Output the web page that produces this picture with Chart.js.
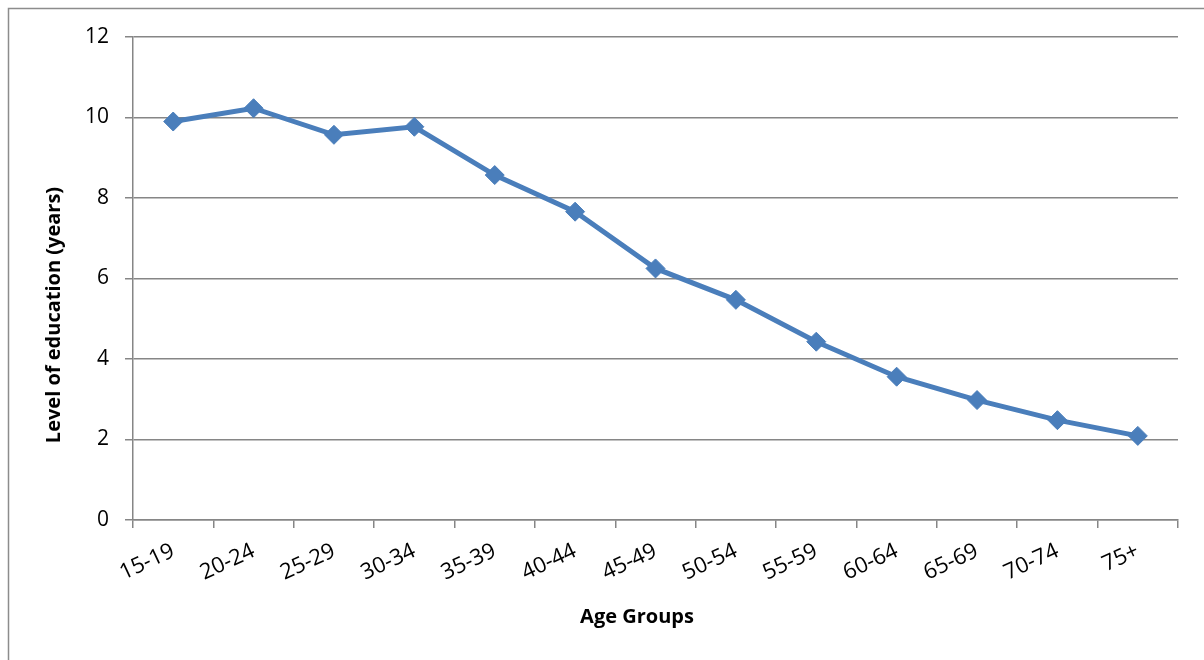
<!DOCTYPE html>
<html>
<head>
<meta charset="utf-8">
<script src="https://cdn.jsdelivr.net/npm/chart.js@4.4.1/dist/chart.umd.min.js"></script>
<style>
  html, body { margin: 0; padding: 0; background: #ffffff; }
  #wrap { position: relative; width: 1204px; height: 660px; }
</style>
</head>
<body>
<div id="wrap"><canvas id="chart" width="1204" height="660"></canvas></div>
<script>
// Age groups and mean years of education
const ageGroups = ['15-19', '20-24', '25-29', '30-34', '35-39', '40-44', '45-49',
                   '50-54', '55-59', '60-64', '65-69', '70-74', '75+'];
const educationYears = [9.90, 10.23, 9.57, 9.77, 8.57, 7.66, 6.25,
                        5.47, 4.43, 3.56, 2.98, 2.48, 2.09];
const yTicks = [0, 2, 4, 6, 8, 10, 12];

const xTitle = 'Age Groups';
const yTitle = 'Level of education (years)';

const FONT = "'Open Sans', 'Noto Sans', sans-serif";
const AXIS_GREY = '#868686';
const LINE_BLUE = '#4A7EBB';

// Outer frame of the chart object
const framePlugin = {
  id: 'frame',
  beforeDraw(chart) {
    const ctx = chart.ctx;
    ctx.save();
    ctx.fillStyle = '#ffffff';
    ctx.fillRect(0, 0, chart.width, chart.height);
    ctx.strokeStyle = '#8c8c8c';
    ctx.lineWidth = 1.5;
    ctx.strokeRect(8.5, 8.5, chart.width + 10, chart.height + 10);
    ctx.restore();
  }
};

// Axis titles
const titlePlugin = {
  id: 'axisTitles',
  afterDraw(chart) {
    const ctx = chart.ctx;
    ctx.save();
    ctx.fillStyle = '#000000';
    ctx.font = "bold 20px " + FONT;
    ctx.textAlign = 'center';
    ctx.textBaseline = 'middle';
    ctx.fillText(xTitle, 637, 617);
    ctx.translate(54, 315);
    ctx.rotate(-Math.PI / 2);
    ctx.fillText(yTitle, 0, 0);
    ctx.restore();
  }
};

new Chart(document.getElementById('chart'), {
  type: 'line',
  data: {
    labels: ageGroups,
    datasets: [{
      data: educationYears,
      borderColor: LINE_BLUE,
      backgroundColor: LINE_BLUE,
      borderWidth: 5,
      pointStyle: 'rectRot',
      pointRadius: 9.5,
      pointBorderWidth: 1,
      pointBorderColor: LINE_BLUE,
      pointBackgroundColor: LINE_BLUE,
      tension: 0,
      fill: false
    }]
  },
  options: {
    responsive: false,
    animation: false,
    layout: { padding: { top: 37, right: 26, left: 0, bottom: 0 } },
    plugins: {
      legend: { display: false },
      tooltip: { enabled: false }
    },
    scales: {
      x: {
        type: 'category',
        offset: true,
        afterFit(scale) { scale.height = 140; },
        grid: {
          offset: true,
          drawOnChartArea: false,
          drawTicks: true,
          tickLength: 8,
          color: AXIS_GREY,
          lineWidth: 1.5
        },
        border: { color: AXIS_GREY, width: 1.5 },
        ticks: {
          color: '#000000',
          font: { family: FONT, size: 22 },
          minRotation: 25,
          maxRotation: 25,
          padding: 10,
          autoSkip: false
        }
      },
      y: {
        min: 0,
        max: 12,
        afterFit(scale) { scale.width = 133; },
        afterBuildTicks(scale) { scale.ticks = yTicks.map(v => ({ value: v })); },
        grid: {
          drawTicks: true,
          tickLength: 8,
          color: AXIS_GREY,
          lineWidth: 1.5
        },
        border: { color: AXIS_GREY, width: 1.5 },
        ticks: {
          color: '#000000',
          font: { family: FONT, size: 21 },
          padding: 16
        }
      }
    }
  },
  plugins: [framePlugin, titlePlugin]
});
</script>
</body>
</html>
